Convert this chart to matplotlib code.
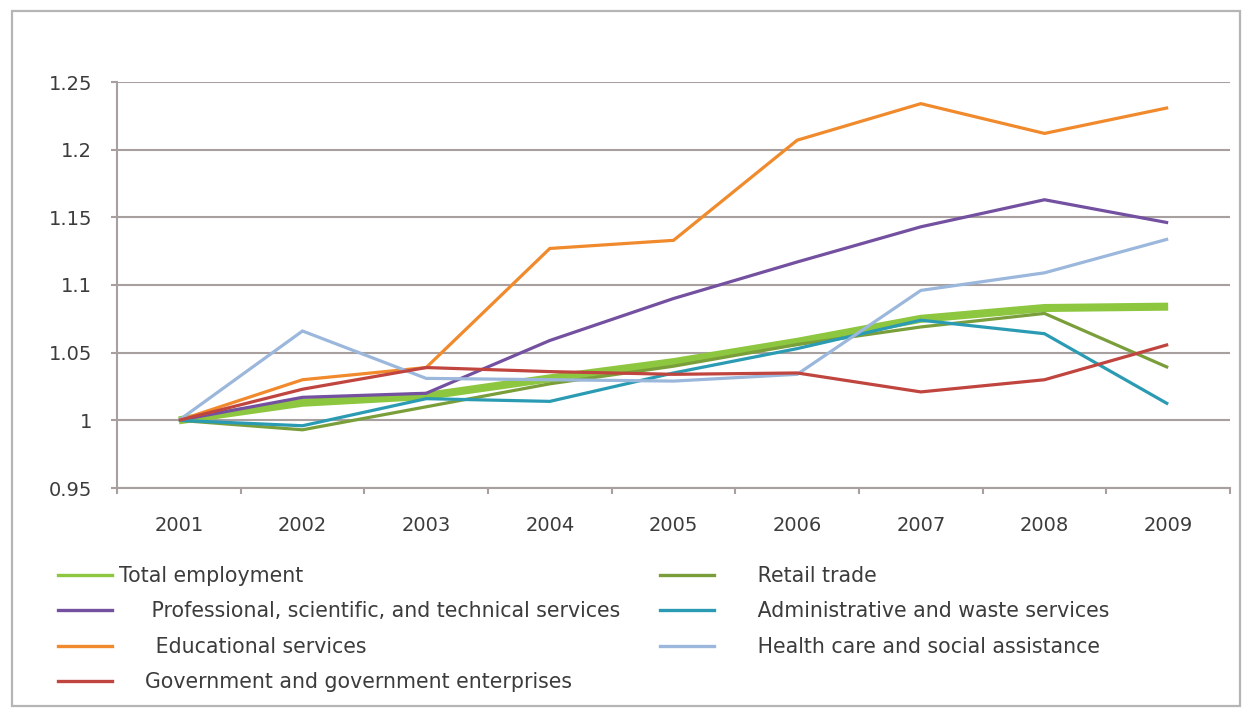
import matplotlib
matplotlib.use("Agg")
import matplotlib.pyplot as plt
from matplotlib.lines import Line2D
from matplotlib.patches import Rectangle
from matplotlib.ticker import FixedLocator, FixedFormatter

plt.rcParams['font.family'] = ['DejaVu Sans']

years = ['2001', '2002', '2003', '2004', '2005', '2006', '2007', '2008', '2009']

total_employment = [1.000, 1.013, 1.018, 1.031, 1.043, 1.058, 1.075, 1.083, 1.084]
retail_trade = [1.000, 0.993, 1.010, 1.027, 1.040, 1.056, 1.069, 1.079, 1.039]
professional = [1.000, 1.017, 1.020, 1.059, 1.090, 1.117, 1.143, 1.163, 1.146]
administrative = [1.000, 0.996, 1.016, 1.014, 1.035, 1.053, 1.074, 1.064, 1.012]
educational = [1.000, 1.030, 1.039, 1.127, 1.133, 1.207, 1.234, 1.212, 1.231]
health_care = [1.000, 1.066, 1.031, 1.030, 1.029, 1.034, 1.096, 1.109, 1.134]
government = [1.000, 1.023, 1.039, 1.036, 1.034, 1.035, 1.021, 1.030, 1.056]

y_ticks = [0.95, 1.0, 1.05, 1.1, 1.15, 1.2, 1.25]
y_tick_labels = ['0.95', '1', '1.05', '1.1', '1.15', '1.2', '1.25']

labels = {
    'total': 'Total employment',
    'retail': '     \u2009Retail trade',
    'prof': '     Professional, scientific, and technical services',
    'admin': '     \u2009Administrative and waste services',
    'edu': '     \u2009Educational services',
    'health': '     \u2009Health care and social assistance',
    'gov': '    Government and government enterprises',
}

colors = {
    'total': '#8dc63f',
    'retail': '#7a9f3a',
    'prof': '#7450a0',
    'admin': '#2b9bb3',
    'edu': '#f08a2c',
    'health': '#9bb7dc',
    'gov': '#c0453f',
}

text_color = '#3c3c3c'
grid_color = '#a8a09e'

W, H = 1248, 709
fig = plt.figure(figsize=(W / 100, H / 100), dpi=100)
fig.patch.set_facecolor('white')

ax = fig.add_axes([117 / W, 1 - 488 / H, (1230 - 117) / W, 406 / H])

x = list(range(1, len(years) + 1))
series = [
    ('total', total_employment, 5.8),
    ('retail', retail_trade, 2.3),
    ('prof', professional, 2.3),
    ('admin', administrative, 2.3),
    ('edu', educational, 2.3),
    ('health', health_care, 2.3),
    ('gov', government, 2.3),
]
for key, vals, lw in series:
    ax.plot(x, vals, color=colors[key], lw=lw, solid_capstyle='butt',
            solid_joinstyle='miter', zorder=3)

ax.set_xlim(0.5, len(years) + 0.5)
ax.set_ylim(0.95, 1.25)
ax.yaxis.set_major_locator(FixedLocator(y_ticks))
ax.yaxis.set_major_formatter(FixedFormatter(y_tick_labels))
ax.set_xticks(x)
ax.set_xticklabels(years)
ax.set_xticks([i + 0.5 for i in range(0, len(years) + 1)], minor=True)

ax.grid(axis='y', color=grid_color, lw=1.5, zorder=1)
ax.set_axisbelow(True)
for s in ['top', 'right']:
    ax.spines[s].set_visible(False)
for s in ['left', 'bottom']:
    ax.spines[s].set_color(grid_color)
    ax.spines[s].set_linewidth(1.5)

ax.tick_params(axis='y', length=4, width=1.5, color=grid_color, pad=14,
               labelsize=14, labelcolor=text_color)
ax.tick_params(axis='x', which='major', length=0, pad=20, labelsize=14,
               labelcolor=text_color)
ax.tick_params(axis='x', which='minor', length=4, width=1.5, color=grid_color)

def proxy(key):
    return Line2D([], [], color=colors[key], lw=2.4)

leg_kw = dict(frameon=False, fontsize=14.8, handlelength=2.63, handletextpad=0.34,
              labelspacing=0.75, borderpad=0, borderaxespad=0, labelcolor=text_color,
              loc='upper left')

keys1 = ['total', 'prof', 'edu', 'gov']
keys2 = ['retail', 'admin', 'health']
leg1 = fig.legend([proxy(k) for k in keys1], [labels[k] for k in keys1],
                  bbox_to_anchor=(58 / W, 1 - 566 / H), **leg_kw)
leg2 = fig.legend([proxy(k) for k in keys2], [labels[k] for k in keys2],
                  bbox_to_anchor=(660 / W, 1 - 566 / H), **leg_kw)

fig.add_artist(Rectangle((12 / W, 1 - 706 / H), (1240 - 12) / W, (706 - 11) / H,
                         transform=fig.transFigure, fill=False,
                         edgecolor='#b5b5b5', lw=1.6))

fig.savefig('out.png', dpi=100, facecolor='white')
